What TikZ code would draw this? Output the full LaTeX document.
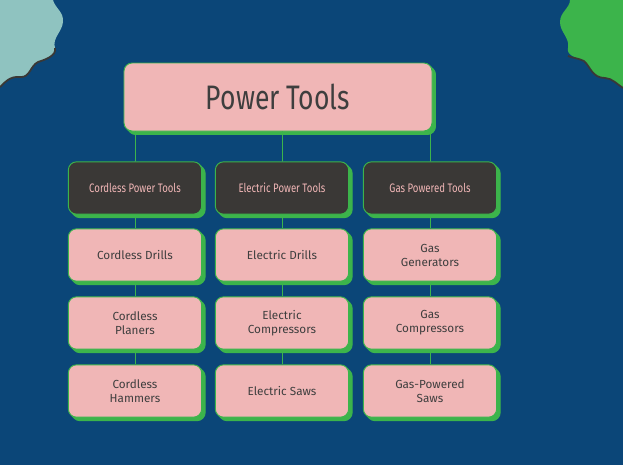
\documentclass[tikz,border=0pt]{standalone}
\usepackage{fontspec}
\setmainfont{Fira Sans}
\newfontfamily\condfont[FakeStretch=0.78]{Fira Sans}
\usetikzlibrary{shadows}
\definecolor{bgblue}{RGB}{11,70,120}
\definecolor{boxpink}{RGB}{240,182,182}
\definecolor{edgegreen}{RGB}{60,180,75}
\definecolor{boxdark}{RGB}{58,56,54}
\definecolor{txtdark}{RGB}{62,62,62}
\definecolor{blobteal}{RGB}{143,195,192}
\definecolor{starpink}{RGB}{245,190,190}

\tikzset{
  box/.style={rectangle, rounded corners=7pt, draw=edgegreen, line width=0.8pt,
    minimum width=4cm, minimum height=1.57cm, align=center, inner sep=2pt,
    double copy shadow={shadow xshift=1.5pt, shadow yshift=-1.5pt, fill=edgegreen, draw=edgegreen}},
  leaf/.style={box, fill=boxpink, text=txtdark, font=\fontsize{10}{12}\selectfont},
  head/.style={box, fill=boxdark, text=boxpink, font=\condfont\fontsize{10.5}{12}\selectfont},
  link/.style={edgegreen, line width=0.6pt},
  spark/.style={starpink, fill=starpink}
}
\newcommand{\sparkle}[1]{\fill[spark] (#1) +(0,0.13) -- +(0.03,0.03) -- +(0.13,0) -- +(0.03,-0.03) -- +(0,-0.13) -- +(-0.03,-0.03) -- +(-0.13,0) -- +(-0.03,0.03) -- cycle;}

\begin{document}
\begin{tikzpicture}[x=0.03cm, y=-0.03cm]
\fill[bgblue] (0,0) rectangle (623,465);
\useasboundingbox (0,0) rectangle (623,465);

% Blobs
\fill[blobteal] (0,0) -- (53,0)
  .. controls (55,8) and (64,12) .. (63,22)
  .. controls (62,32) and (52,38) .. (55,48)
  .. controls (57,56) and (44,60) .. (38,62)
  .. controls (30,66) and (30,78) .. (20,77)
  .. controls (10,76) and (5,82) .. (0,87) -- cycle;
\draw[boxdark, line width=1.5pt] (55,48) .. controls (57,56) and (44,60) .. (38,62)
  .. controls (30,66) and (30,78) .. (20,77) .. controls (10,76) and (5,82) .. (0,87);
\fill[edgegreen] (570,0) .. controls (570,8) and (560,12) .. (560,22)
  .. controls (560,32) and (570,38) .. (568,48)
  .. controls (566,56) and (578,58) .. (584,61)
  .. controls (590,66) and (592,78) .. (605,78)
  .. controls (612,78) and (618,85) .. (623,88) -- (623,0) -- cycle;
\draw[boxdark, line width=1.5pt] (568,56) .. controls (572,58) and (578,58) .. (584,61)
  .. controls (590,66) and (592,78) .. (605,78) .. controls (612,78) and (618,85) .. (623,88);
\coordinate (sparkL) at (38,62);
\coordinate (sparkR) at (584,61);
\sparkle{sparkL}
\sparkle{sparkR}

% Title
\node[box, fill=boxpink, text=txtdark, minimum width=9.24cm, minimum height=2.04cm,
  font=\condfont\fontsize{29}{32}\selectfont] (title) at (278,97) {Power Tools};

% Headers
\node[head] (hc) at (135,188) {Cordless Power Tools};
\node[head] (he) at (282,188) {Electric Power Tools};
\node[head] (hg) at (430,188) {Gas Powered Tools};

% Leaves
\node[leaf] (c1) at (135,255) {Cordless Drills};
\node[leaf] (c2) at (135,323) {Cordless\\Planers};
\node[leaf] (c3) at (135,391) {Cordless\\Hammers};
\node[leaf] (e1) at (282,255) {Electric Drills};
\node[leaf] (e2) at (282,323) {Electric\\Compressors};
\node[leaf] (e3) at (282,391) {Electric Saws};
\node[leaf] (g1) at (430,255) {Gas\\Generators};
\node[leaf] (g2) at (430,323) {Gas\\Compressors};
\node[leaf] (g3) at (430,391) {Gas-Powered\\Saws};

% Lines
\foreach \h/\a/\b/\c in {hc/c1/c2/c3, he/e1/e2/e3, hg/g1/g2/g3}{
  \draw[link] (title.south -| \h.north) -- (\h.north);
  \draw[link] (\h.south) -- (\a.north);
  \draw[link] (\a.south) -- (\b.north);
  \draw[link] (\b.south) -- (\c.north);
  \sparkle{\h.north}
}
\end{tikzpicture}
\end{document}
